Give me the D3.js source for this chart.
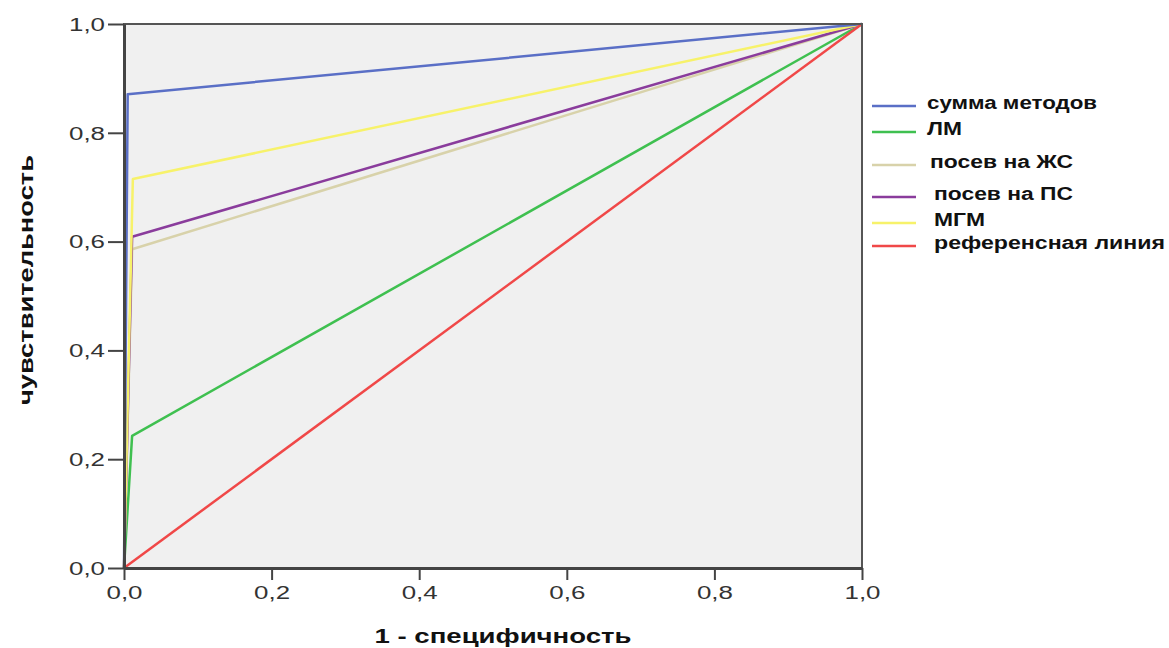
<!DOCTYPE html>
<html>
<head>
<meta charset="utf-8">
<script src="https://cdn.jsdelivr.net/npm/d3@7"></script>
<style>
  body { margin: 0; background: #fff; }
  svg { display: block; font-family: "Liberation Sans", Arial, sans-serif; }
</style>
</head>
<body>
<svg id="chart"></svg>
<script>
// ROC curves: x = 1 - specificity, y = sensitivity
const seriesNames = ['сумма методов', 'ЛМ', 'посев на ЖС', 'посев на ПС', 'МГМ', 'референсная линия'];
const seriesColors = ['#5a6fc6', '#3fc050', '#d8d2aa', '#8a3c9c', '#f7f26a', '#f04848'];
const fprValues = [
  [0, 0.005, 1],
  [0, 0.011, 1],
  [0, 0.011, 1],
  [0, 0.011, 1],
  [0, 0.012, 1],
  [0, 1]
];
const tprValues = [
  [0, 0.871, 1],
  [0, 0.243, 1],
  [0, 0.586, 1],
  [0, 0.609, 1],
  [0, 0.715, 1],
  [0, 1]
];
const tickValues = [0, 0.2, 0.4, 0.6, 0.8, 1.0];
const tickLabels = ['0,0', '0,2', '0,4', '0,6', '0,8', '1,0'];
// draw order (back to front)
const drawOrder = [1, 2, 3, 4, 0, 5];

const width = 1169;
const height = 648;
const margin = { top: 24, right: 307, bottom: 80, left: 124 };

const svg = d3.select('#chart').attr('width', width).attr('height', height);

const x = d3.scaleLinear().domain([0, 1]).range([margin.left, width - margin.right]);
const y = d3.scaleLinear().domain([0, 1]).range([height - margin.bottom, margin.top]);

svg.append('rect')
  .attr('x', x(0)).attr('y', y(1))
  .attr('width', x(1) - x(0)).attr('height', y(0) - y(1))
  .attr('fill', '#f0f0f0');

const line = d3.line().x(d => x(d[0])).y(d => y(d[1]));

svg.append('g').selectAll('path')
  .data(drawOrder)
  .enter().append('path')
  .attr('d', i => line(fprValues[i].map((v, j) => [v, tprValues[i][j]])))
  .attr('fill', 'none')
  .attr('stroke', i => seriesColors[i])
  .attr('stroke-width', 2.5)
  .attr('stroke-linejoin', 'round');

// frame
svg.append('rect')
  .attr('x', x(0)).attr('y', y(1))
  .attr('width', x(1) - x(0)).attr('height', y(0) - y(1))
  .attr('fill', 'none')
  .attr('stroke', '#555')
  .attr('stroke-width', 2);

const fmt = d => tickLabels[tickValues.indexOf(d)];

const xAxis = svg.append('g')
  .attr('transform', `translate(0,${y(0)})`)
  .call(d3.axisBottom(x).tickValues(tickValues).tickFormat(fmt).tickSize(12).tickSizeOuter(0));

const yAxis = svg.append('g')
  .attr('transform', `translate(${x(0)},0)`)
  .call(d3.axisLeft(y).tickValues(tickValues).tickFormat(fmt).tickSize(16).tickSizeOuter(0));

[xAxis, yAxis].forEach(g => {
  g.select('.domain').attr('stroke', '#444').attr('stroke-width', 3);
  g.selectAll('.tick line').attr('stroke', '#444').attr('stroke-width', 2);
  g.selectAll('.tick text')
    .attr('fill', '#333')
    .attr('font-size', 18)
    .attr('font-family', '"Liberation Sans", Arial, sans-serif')
    .attr('textLength', 36)
    .attr('lengthAdjust', 'spacingAndGlyphs');
});
xAxis.selectAll('.tick text').attr('dy', null).attr('y', 31);
yAxis.selectAll('.tick text').attr('x', -19).attr('dy', '0.35em');

// axis titles
svg.append('text')
  .attr('x', 503).attr('y', 643)
  .attr('text-anchor', 'middle')
  .attr('font-size', 21).attr('font-weight', 'bold').attr('fill', '#111')
  .attr('textLength', 257).attr('lengthAdjust', 'spacingAndGlyphs')
  .text('1 - специфичность');

svg.append('text')
  .attr('transform', 'translate(33,280) rotate(-90)')
  .attr('text-anchor', 'middle')
  .attr('font-size', 21).attr('font-weight', 'bold').attr('fill', '#111')
  .attr('textLength', 250).attr('lengthAdjust', 'spacingAndGlyphs')
  .text('чувствительность');

// legend
const legendLineY = [106, 132, 165, 197, 223, 246];
const legendTextX = [927, 927, 930, 934, 934, 934];
const legendTextW = [170, 35, 143, 139, 51, 231];

const legend = svg.append('g');
seriesNames.forEach((name, i) => {
  legend.append('line')
    .attr('x1', 872).attr('x2', 916)
    .attr('y1', legendLineY[i]).attr('y2', legendLineY[i])
    .attr('stroke', seriesColors[i]).attr('stroke-width', 2.5);
  legend.append('text')
    .attr('x', legendTextX[i]).attr('y', legendLineY[i] + 3)
    .attr('font-size', 18).attr('font-weight', 'bold').attr('fill', '#111')
    .attr('textLength', legendTextW[i]).attr('lengthAdjust', 'spacingAndGlyphs')
    .text(name);
});
</script>
</body>
</html>
